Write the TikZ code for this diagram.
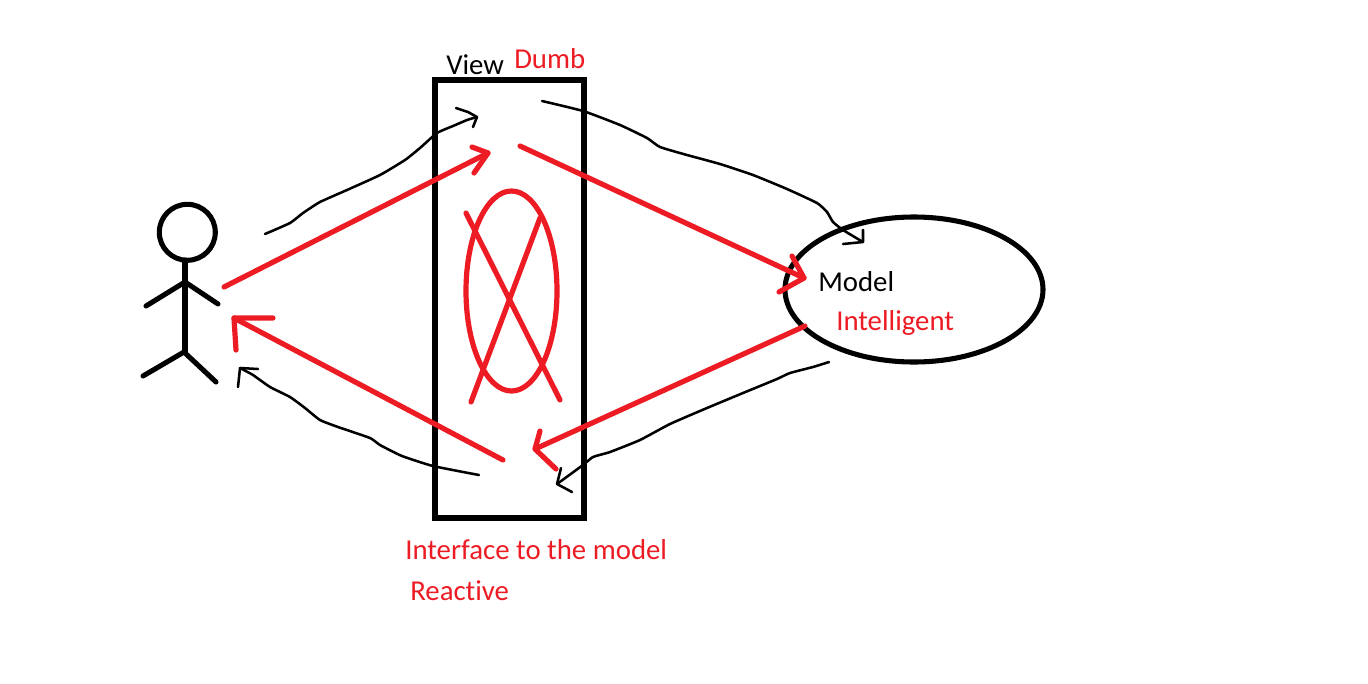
\documentclass[tikz,border=0pt]{standalone}
\usepackage{fontspec}
\setmainfont[Ligatures=NoCommon]{Carlito}
\definecolor{pred}{HTML}{ED1C24}
\tikzset{
  x=0.75pt,y=-0.75pt,
  thick stroke/.style={black,line width=3.8pt,line cap=round,line join=round},
  red stroke/.style={pred,line width=3.9pt,line cap=round,line join=round},
  thin stroke/.style={black,line width=1.9pt,line cap=round,line join=round},
  blacktext/.style={anchor=base west,inner sep=0pt,text=black,font=\fontsize{21.6}{24}\selectfont},
  redtext/.style={anchor=base west,inner sep=0pt,text=pred,font=\fontsize{21.6}{24}\selectfont},
}
\begin{document}
\begin{tikzpicture}
\useasboundingbox (0,0) rectangle (1368,683);
\fill[white] (0,0) rectangle (1368,683);
% stick figure
\draw[thick stroke] (187.3,232.3) circle[radius=28];
\draw[thick stroke] (185,260) -- (185,352);
\draw[thick stroke] (146,306) -- (185,282) -- (218,304);
\draw[thick stroke] (143,376) -- (184,352) -- (216,382);
% view box
\draw[thick stroke,line cap=butt,line join=miter] (435,80) rectangle (584,518);
% model ellipse
\draw[thick stroke] (914,289.5) ellipse[x radius=129,y radius=72.5];
% crossed ellipse
\draw[red stroke] (511.5,291) ellipse[x radius=45.5,y radius=100];
\draw[red stroke] (466,213) -- (560,400);
\draw[red stroke] (540,218) -- (471,402);
% named ends
\coordinate (a1s) at (224,287); \coordinate (a1e) at (488,153);
\coordinate (a2s) at (520,146); \coordinate (a2e) at (804,278);
\coordinate (a3s) at (805,326); \coordinate (a3e) at (535,449);
\coordinate (a4s) at (503,460); \coordinate (a4e) at (234,318);
% red arrows
\draw[red stroke] (a1s) -- (a1e);
\draw[red stroke] (472,147) -- (a1e) -- (474,173);
\draw[red stroke] (a2s) -- (a2e);
\draw[red stroke] (792,256) -- (a2e) -- (779,292);
\draw[red stroke] (a3s) -- (a3e);
\draw[red stroke] (540,431) -- (a3e) -- (556,469);
\draw[red stroke] (a4s) -- (a4e);
\draw[red stroke] (273,318) -- (a4e) -- (236,350);
% black hand-drawn arrows
\draw[thin stroke] plot[smooth,tension=0.3] coordinates {(265,234) (290,223) (303,213) (320,202) (347,190) (380,175) (405,160) (420,148) (437,133) (453,126) (467,120) (477,117)};
\draw[thin stroke] (456,108) -- (468,112) -- (477,117) -- (473,127);
\draw[thin stroke] plot[smooth,tension=0.3] coordinates {(542,101) (583,111) (620,125) (647,138) (660,147) (687,155) (720,164) (753,175) (787,189) (817,203) (827,212) (833,222) (843,230) (863,242)};
\draw[thin stroke] (863,230) -- (863,242) -- (843,244);
\draw[thin stroke] plot[smooth,tension=0.3] coordinates {(829,362) (813,367) (790,373) (777,379) (743,393) (707,408) (670,424) (640,440) (610,452) (593,457) (583,465) (557,484)};
\draw[thin stroke] (561,468) -- (557,484) -- (572,492);
\draw[thin stroke] plot[smooth,tension=0.3] coordinates {(479,475) (433,466) (402,456) (380,445) (370,438) (338,427) (320,420) (305,408) (290,397) (270,387) (253,375) (240,368)};
\draw[thin stroke] (258,369) -- (240,368) -- (238,387);
% texts
\node[blacktext] (view) at (446,74) {View};
\node[redtext] (dumb) at (514,68) {Dumb};
\node[blacktext] (model) at (818,291) {Model};
\node[redtext] (intel) at (836,330) {Intelligent};
\node[redtext] (iface) at (405,559) {Interface to the model};
\node[redtext] (react) at (410,600) {Reactive};
\end{tikzpicture}
\end{document}
